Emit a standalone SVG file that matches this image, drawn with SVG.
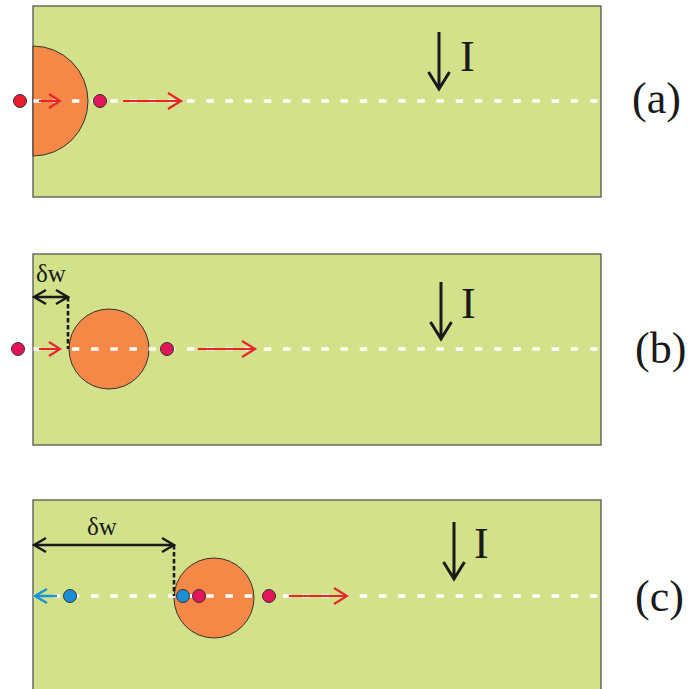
<svg xmlns="http://www.w3.org/2000/svg" width="699" height="689" viewBox="0 0 699 689">
<style>
.panel{fill:#d3e28a;stroke:#555;stroke-width:1.3}
.disc{fill:#f58747;stroke:#333;stroke-width:1}
.dash{stroke:#fff;stroke-width:3.5;stroke-dasharray:7.5 11.69;fill:none}
.red{stroke:#e8262a;stroke-width:2.2;fill:none}
.blue{stroke:#1d93d8;stroke-width:2.6;fill:none}
.blk{stroke:#1a1a1a;stroke-width:2.4;fill:none}
.cur{stroke:#1a1a1a;stroke-width:3;fill:none}
.vd{stroke:#1a1a1a;stroke-width:2.6;stroke-dasharray:4.5 2.5;fill:none}
.dr{fill:#e3145a;stroke:#333;stroke-width:1}
.dr2{fill:#ea1c2d;stroke:#333;stroke-width:1}
.db{fill:#1a8fd6;stroke:#333;stroke-width:1}
.t{font-family:'Liberation Serif','Times New Roman',serif;fill:#1a1a1a}
</style>
<g id="panel-a">
<rect class="panel" x="33" y="6" width="568" height="191"/>
<path class="disc" d="M33,46 A55,55 0 0 1 33,156 Z"/>
<line class="dash" x1="33.5" y1="101" x2="601" y2="101"/>
<circle class="dr2" cx="20" cy="101" r="6.5"/>
<circle class="dr" cx="100" cy="101" r="6.5"/>
<path class="red" d="M39,101 H60 M49,94 L60,101 L49,108"/>
<path class="red" d="M123,101 H181 M168,93 L181,101 L168,109"/>
<path class="cur" d="M439,32 V89 M428.5,72 L439,89 L449.5,72"/>
<text class="t" x="460" y="71" font-size="44">I</text>
<text class="t" x="632" y="113" font-size="44">(a)</text>
</g>
<g id="panel-b">
<rect class="panel" x="33" y="254" width="568" height="191"/>
<circle class="disc" cx="109" cy="349" r="40"/>
<line class="dash" x1="33.5" y1="349" x2="601" y2="349"/>
<circle class="dr" cx="18" cy="349" r="6.5"/>
<circle class="dr" cx="167" cy="349" r="6.5"/>
<path class="red" d="M39,349 H60 M49,342 L60,349 L49,356"/>
<path class="red" d="M198,349 H255 M242,341 L255,349 L242,357"/>
<path class="blk" d="M34,297 H68 M46,290 L34,297 L46,304 M56,290 L68,297 L56,304"/>
<line class="vd" x1="68" y1="297" x2="68" y2="349"/>
<text class="t" x="36" y="282" font-size="25">δw</text>
<path class="cur" d="M441,282 V339 M430.5,322 L441,339 L451.5,322"/>
<text class="t" x="461" y="318" font-size="44">I</text>
<text class="t" x="635" y="363" font-size="44">(b)</text>
</g>
<g id="panel-c">
<rect class="panel" x="33" y="500" width="568" height="195"/>
<circle class="disc" cx="214" cy="598" r="40"/>
<line class="dash" x1="33.5" y1="596" x2="601" y2="596"/>
<circle class="db" cx="70" cy="596" r="6.5"/>
<circle class="db" cx="183" cy="596" r="6.5"/>
<circle class="dr" cx="199" cy="596" r="6.5"/>
<circle class="dr" cx="269" cy="596" r="6.5"/>
<path class="blue" d="M57,596 H35 M47,589 L35,596 L47,603"/>
<path class="red" d="M289,596 H347 M334,588 L347,596 L334,604"/>
<path class="blk" d="M34,545 H174 M46,538 L34,545 L46,552 M162,538 L174,545 L162,552"/>
<line class="vd" x1="174" y1="545" x2="174" y2="596"/>
<text class="t" x="87" y="535" font-size="25">δw</text>
<path class="cur" d="M454,522 V579 M443.5,562 L454,579 L464.5,562"/>
<text class="t" x="474" y="558" font-size="44">I</text>
<text class="t" x="635" y="611" font-size="44">(c)</text>
</g>
</svg>
